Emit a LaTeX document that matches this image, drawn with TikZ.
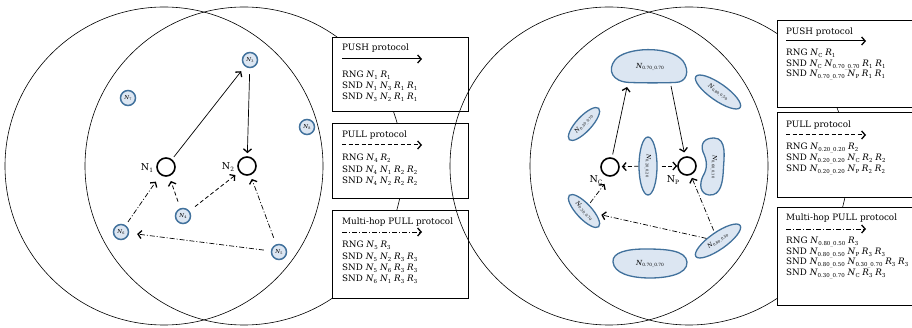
\documentclass[tikz,border=0pt]{standalone}
\usepackage{fontspec}
\usepackage{graphicx}
\setmainfont{DejaVu Serif}
\usetikzlibrary{arrows.meta,shapes.geometric}
\definecolor{nodeedge}{RGB}{65,113,156}
\definecolor{nodefill}{RGB}{220,230,242}
% lowered, shrunk index
\newcommand{\sub}[1]{\raisebox{-0.35ex}{\scalebox{0.62}{#1}}}
% italic symbol with index
\newcommand{\ns}[2]{\textit{#1}\sub{#2}}

\begin{document}
\begin{tikzpicture}[x=1pt,y=-1pt,
  ring/.style={draw, line width=0.6pt},
  peer/.style={circle, draw=nodeedge, fill=nodefill, line width=1.5pt, minimum size=15pt, inner sep=0pt, font=\fontsize{5.5}{6}\selectfont},
  hub/.style={circle, draw, line width=1.6pt, minimum size=18pt, inner sep=0pt},
  hublabel/.style={inner sep=0pt, font=\fontsize{9.5}{10}\selectfont},
  blob/.style={draw=nodeedge, fill=nodefill, line width=1.3pt},
  oval/.style={ellipse, draw=nodeedge, fill=nodefill, line width=1.3pt, inner sep=0pt, font=\fontsize{5.8}{6}\selectfont},
  blobtext/.style={inner sep=0pt, font=\fontsize{7}{7}\selectfont},
  tip/.style={-{Straight Barb[length=3.5pt,width=8pt,line width=1.3pt]}},
  push/.style={tip, line width=0.7pt},
  pull/.style={tip, line width=0.8pt, dash pattern=on 4pt off 2.5pt},
  multi/.style={tip, line width=0.7pt, dash pattern=on 5pt off 2pt on 1pt off 2pt},
  legend/.style={tip, line width=1pt},
  box/.style={draw, fill=white, line width=0.7pt, anchor=north west, inner sep=0pt},
  txt/.style={anchor=base west, inner sep=0pt, font=\fontsize{8.8}{10}\selectfont},
]
\useasboundingbox (0,0) rectangle (912,328);

% ---------- left scenario: integer-named nodes ----------
\draw[ring] (164,166) circle[radius=159];
\draw[ring] (244,166) circle[radius=159];

\node[hub] (N1) at (166,167) {};
\node[hub] (N2) at (247,166) {};
\node[hublabel] (lN1) at (147,168) {N\sub{1}};
\node[hublabel] (lN2) at (228,167) {N\sub{2}};

\node[peer] (N3) at (250,60) {\ns{N}{3}};
\node[peer] (N7) at (128,98) {\ns{N}{7}};
\node[peer] (N8) at (307,127) {\ns{N}{8}};
\node[peer] (N4) at (183,216) {\ns{N}{4}};
\node[peer] (N6) at (121,232) {\ns{N}{6}};
\node[peer] (N5) at (279,252) {\ns{N}{5}};

\draw[push, shorten <=3pt, shorten >=6pt] (N1) -- (N3);
\draw[push, shorten <=6pt, shorten >=3pt] (N3) -- (N2);
\draw[pull, shorten <=7pt, shorten >=5pt] (N4) -- (N1);
\draw[pull, shorten <=7pt, shorten >=5pt] (N4) -- (N2);
\draw[multi, shorten <=4pt, shorten >=8pt] (N6) -- (N1);
\draw[multi, shorten <=7pt, shorten >=4pt] (N5) -- (N2);
\draw[multi, shorten <=7pt, shorten >=8pt] (N5) -- (N6);

% left protocol boxes
\node[box, minimum width=136pt, minimum height=74pt] (lbox1) at (332,37) {};
\node[txt] (lt1) at (342,51) {PUSH protocol};
\coordinate (la1s) at (342,59); \coordinate (la1e) at (422,59);
\draw[legend] (la1s) -- (la1e);
\node[txt] (lt1a) at (342,78) {RNG \ns{N}{1} \ns{R}{1}};
\node[txt] (lt1b) at (342,89) {SND \ns{N}{1} \ns{N}{3} \ns{R}{1} \ns{R}{1}};
\node[txt] (lt1c) at (342,99.5) {SND \ns{N}{3} \ns{N}{2} \ns{R}{1} \ns{R}{1}};

\node[box, minimum width=136pt, minimum height=75pt] (lbox2) at (332,123) {};
\node[txt] (lt2) at (342,138) {PULL protocol};
\coordinate (la2s) at (342,145); \coordinate (la2e) at (422,145);
\draw[legend, dash pattern=on 4pt off 2.5pt] (la2s) -- (la2e);
\node[txt] (lt2a) at (342,161) {RNG \ns{N}{4} \ns{R}{2}};
\node[txt] (lt2b) at (342,172.5) {SND \ns{N}{4} \ns{N}{1} \ns{R}{2} \ns{R}{2}};
\node[txt] (lt2c) at (342,184) {SND \ns{N}{4} \ns{N}{2} \ns{R}{2} \ns{R}{2}};

\node[box, minimum width=136pt, minimum height=88pt] (lbox3) at (332,210) {};
\node[txt] (lt3) at (342,225) {Multi-hop PULL protocol};
\coordinate (la3s) at (342,232); \coordinate (la3e) at (422,232);
\draw[legend, line width=0.8pt, dash pattern=on 5pt off 2pt on 1pt off 2pt] (la3s) -- (la3e);
\node[txt] (lt3a) at (342,248) {RNG \ns{N}{5} \ns{R}{3}};
\node[txt] (lt3b) at (342,259.5) {SND \ns{N}{5} \ns{N}{2} \ns{R}{3} \ns{R}{3}};
\node[txt] (lt3c) at (342,271) {SND \ns{N}{5} \ns{N}{6} \ns{R}{3} \ns{R}{3}};
\node[txt] (lt3d) at (342,282) {SND \ns{N}{6} \ns{N}{1} \ns{R}{3} \ns{R}{3}};

% ---------- right scenario: coordinate-named nodes ----------
\draw[ring] (609,166) circle[radius=159];
\draw[ring] (689,166) circle[radius=159];

\node[hub] (Nc) at (610,167) {};
\node[hub] (Np) at (687,166) {};
\node[hublabel] (lNc) at (596,180) {N\sub{C}};
\node[hublabel] (lNp) at (673,180) {N\sub{P}};

% top and bottom clusters
\path[blob] (630,82.5) .. controls (612,82) and (607,70) .. (615,60)
  .. controls (625,47) and (670,45) .. (683,61)
  .. controls (690,71) and (687,82.5) .. (675,82.5)
  .. controls (660,83) and (645,83) .. (630,82.5) -- cycle;
\node[blobtext] (top) at (650,67) {\ns{N}{0.70\_0.70}};

\path[blob] (613,262) .. controls (612,252) and (628,249) .. (645,249)
  .. controls (665,249) and (686,250) .. (687,262)
  .. controls (688,275) and (665,278) .. (650,278)
  .. controls (630,278) and (614,273) .. (613,262) -- cycle;
\node[blobtext] (bot) at (650,264) {\ns{N}{0.70\_0.70}};

% kidney-shaped cluster on the right of N_P
\path[blob] (714,138) .. controls (727,138) and (724,158) .. (723.5,167)
  .. controls (723,182) and (721,196) .. (709,195)
  .. controls (700,194) and (699,184) .. (703,176)
  .. controls (708,168) and (707,160) .. (703,152)
  .. controls (700,143) and (705,138) .. (714,138) -- cycle;
\node[oval, draw=none, fill=none, rotate=-90] (kid) at (714,167) {\ns{N}{0.60\_0.10}};

\node[oval, minimum width=58pt, minimum height=18pt, rotate=-90] (mid) at (648,166) {\ns{N}{0.20\_0.20}};
\node[oval, minimum width=43pt, minimum height=15pt, rotate=47] (ul) at (584,124) {\ns{N}{0.30\_0.70}};
\node[oval, minimum width=43pt, minimum height=15pt, rotate=-47] (ll) at (584,211) {\ns{N}{0.30\_0.70}};
\node[oval, minimum width=54pt, minimum height=17pt, rotate=-35] (ur) at (718,92) {\ns{N}{0.80\_0.50}};
\node[oval, minimum width=54pt, minimum height=17pt, rotate=35] (lr) at (718,241) {\ns{N}{0.80\_0.50}};

\coordinate (topIn) at (627,87);
\coordinate (topOut) at (671,86);
\draw[push, shorten <=3pt] (Nc) -- (topIn);
\draw[push, shorten >=4pt] (topOut) -- (Np);
\draw[pull, shorten >=2pt] (mid) -- (Nc);
\draw[pull, shorten <=4pt] (mid) -- (Np);
\draw[multi, shorten <=2pt, shorten >=9pt] (ll) -- (Nc.south);
\draw[multi, shorten <=2pt, shorten >=3pt] (lr) -- (Np);
\draw[multi, shorten >=5pt] (lr) -- (ll);

% right protocol boxes
\node[box, minimum width=140pt, minimum height=87pt] (rbox1) at (777,20) {};
\node[txt] (rt1) at (786,35) {PUSH protocol};
\coordinate (ra1s) at (786,41); \coordinate (ra1e) at (866,41);
\draw[legend] (ra1s) -- (ra1e);
\node[txt] (rt1a) at (786,56) {RNG \ns{N}{C} \ns{R}{1}};
\node[txt] (rt1b) at (786,66.5) {SND \ns{N}{C} \ns{N}{0.70\_0.70} \ns{R}{1} \ns{R}{1}};
\node[txt] (rt1c) at (786,77) {SND \ns{N}{0.70\_0.70} \ns{N}{P} \ns{R}{1} \ns{R}{1}};

\node[box, minimum width=140pt, minimum height=85pt] (rbox2) at (777,112) {};
\node[txt] (rt2) at (786,128) {PULL protocol};
\coordinate (ra2s) at (786,135); \coordinate (ra2e) at (866,135);
\draw[legend, dash pattern=on 4pt off 2.5pt] (ra2s) -- (ra2e);
\node[txt] (rt2a) at (786,150) {RNG \ns{N}{0.20\_0.20} \ns{R}{2}};
\node[txt] (rt2b) at (786,161) {SND \ns{N}{0.20\_0.20} \ns{N}{C} \ns{R}{2} \ns{R}{2}};
\node[txt] (rt2c) at (786,171.5) {SND \ns{N}{0.20\_0.20} \ns{N}{P} \ns{R}{2} \ns{R}{2}};

\node[box, minimum width=140pt, minimum height=98pt] (rbox3) at (777,207) {};
\node[txt] (rt3) at (786,221) {Multi-hop PULL protocol};
\coordinate (ra3s) at (786,229); \coordinate (ra3e) at (866,229);
\draw[legend, line width=0.8pt, dash pattern=on 5pt off 2pt on 1pt off 2pt] (ra3s) -- (ra3e);
\node[txt] (rt3a) at (786,244) {RNG \ns{N}{0.80\_0.50} \ns{R}{3}};
\node[txt] (rt3b) at (786,254.5) {SND \ns{N}{0.80\_0.50} \ns{N}{P} \ns{R}{3} \ns{R}{3}};
\node[txt] (rt3c) at (786,265) {SND \ns{N}{0.80\_0.50} \ns{N}{0.30\_0.70} \ns{R}{3} \ns{R}{3}};
\node[txt] (rt3d) at (786,275.5) {SND \ns{N}{0.30\_0.70} \ns{N}{C} \ns{R}{3} \ns{R}{3}};
\end{tikzpicture}
\end{document}
